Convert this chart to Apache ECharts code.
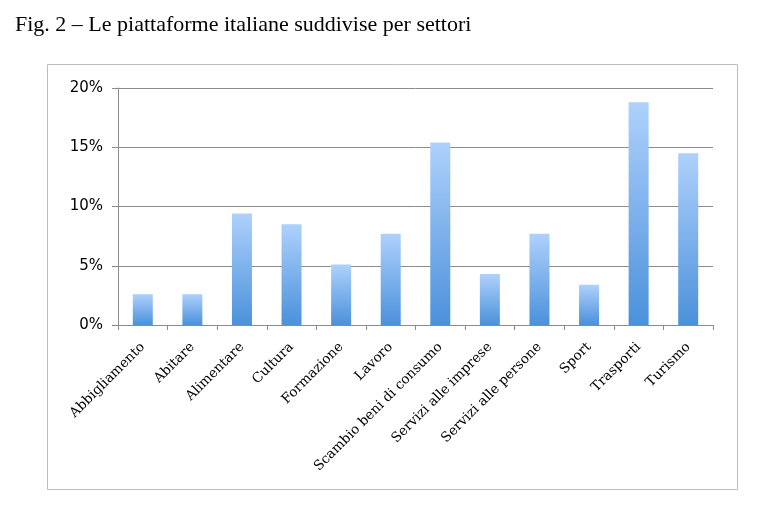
<!DOCTYPE html>
<html>
<head>
<meta charset="utf-8">
<script src="https://cdn.jsdelivr.net/npm/echarts@6/dist/echarts.min.js"></script>
<style>
  html, body { margin: 0; padding: 0; background: #fff; }
  #chart { width: 760px; height: 508px; }
</style>
</head>
<body>
<div id="chart"></div>
<script>
// settori e quote (%)
var settori = ['Abbigliamento', 'Abitare', 'Alimentare', 'Cultura', 'Formazione', 'Lavoro',
    'Scambio beni di consumo', 'Servizi alle imprese', 'Servizi alle persone', 'Sport', 'Trasporti', 'Turismo'];
var quote = [2.6, 2.6, 9.4, 8.5, 5.1, 7.7, 15.4, 4.3, 7.7, 3.4, 18.8, 14.5];
var yTicks = [0, 5, 10, 15, 20];

var chart = echarts.init(document.getElementById('chart'));

chart.setOption({
    animation: false,
    title: {
        text: 'Fig. 2 – Le piattaforme italiane suddivise per settori',
        left: 10,
        top: 9,
        textStyle: {
            fontFamily: 'Liberation Serif',
            fontSize: 22,
            fontWeight: 'normal',
            color: '#000'
        }
    },
    graphic: [{
        type: 'rect',
        shape: { x: 47.5, y: 64.5, width: 690, height: 425 },
        style: { fill: 'none', stroke: '#bdbdbd', lineWidth: 1 },
        silent: true
    }],
    grid: {
        left: 118,
        right: 47,
        top: 88,
        bottom: 183
    },
    xAxis: {
        type: 'category',
        data: settori,
        axisLine: { lineStyle: { color: '#8c8c8c' } },
        axisTick: { show: true, length: 5, lineStyle: { color: '#8c8c8c' } },
        axisLabel: {
            interval: 0,
            rotate: 45,
            margin: 20,
            fontFamily: 'DejaVu Serif',
            fontSize: 13.5,
            color: '#000'
        }
    },
    yAxis: {
        type: 'value',
        min: yTicks[0],
        max: yTicks[yTicks.length - 1],
        interval: 5,
        axisLine: { show: true, lineStyle: { color: '#8c8c8c' } },
        axisTick: { show: true, length: 6, lineStyle: { color: '#8c8c8c' } },
        splitLine: { lineStyle: { color: '#8c8c8c', width: 1 } },
        axisLabel: {
            formatter: '{value}%',
            margin: 15,
            fontFamily: 'DejaVu Sans',
            fontSize: 15,
            color: '#000'
        }
    },
    series: [{
        type: 'bar',
        data: quote,
        barWidth: 20,
        itemStyle: {
            color: new echarts.graphic.LinearGradient(0, 0, 0, 1, [
                { offset: 0, color: '#aed1fc' },
                { offset: 1, color: '#4b91db' }
            ])
        }
    }]
});
</script>
</body>
</html>
